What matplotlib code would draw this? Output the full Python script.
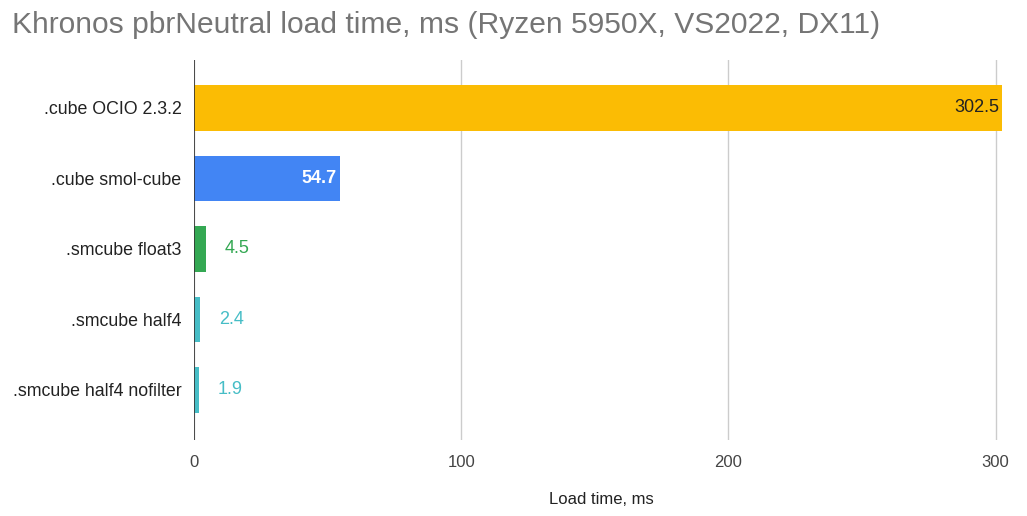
import matplotlib.pyplot as plt

plt.rcParams['font.family'] = ['Liberation Sans', 'DejaVu Sans']

labels = ['.cube OCIO 2.3.2', '.cube smol-cube', '.smcube float3', '.smcube half4', '.smcube half4 nofilter']
values = [302.5, 54.7, 4.5, 2.4, 1.9]
colors = ['#FBBC04', '#4285F4', '#34A853', '#46BDC6', '#46BDC6']
xticks = [0, 100, 200, 300]

fig = plt.figure(figsize=(10.27, 5.16), dpi=100, facecolor='white')
ax = fig.add_axes([194 / 1027, 1 - 440 / 516, (1009 - 194) / 1027, 380 / 516])

y = list(range(len(labels)))
ax.barh(y, values, height=0.65, color=colors, zorder=3)

# value labels: inside for the long bars, outside for the short ones
for i, v in enumerate(values):
    if i == 0:
        ax.text(v - 1.2, i, f'{v}', ha='right', va='center', fontsize=13, color='#222222', zorder=4)
    elif i == 1:
        ax.text(v - 1.2, i, f'{v}', ha='right', va='center', fontsize=13, color='white',
                fontweight='bold', zorder=4)
    else:
        ax.text(v + 7, i, f'{v}', ha='left', va='center', fontsize=13, color=colors[i], zorder=4)

ax.set_yticks(y)
ax.set_yticklabels(labels, fontsize=12.8, color='#222222')
ax.set_ylim(4.71, -0.68)
ax.set_xlim(0, 305)
ax.set_xticks(xticks)
ax.set_xticklabels([str(t) for t in xticks], fontsize=12, color='#444444')
ax.tick_params(axis='y', length=0, pad=9)
ax.tick_params(axis='x', length=0, pad=11)
ax.grid(axis='x', color='#cccccc', linewidth=1, zorder=0)
ax.axvline(0, color='#333333', linewidth=1.2, zorder=5)
for s in ax.spines.values():
    s.set_visible(False)

ax.set_xlabel('Load time, ms', fontsize=12, color='#222222', labelpad=16)
fig.text(12 / 1027, 1 - 25 / 516, 'Khronos pbrNeutral load time, ms (Ryzen 5950X, VS2022, DX11)',
         fontsize=21.6, color='#757575', ha='left', va='center')

fig.savefig('out.png', dpi=100, facecolor='white')
